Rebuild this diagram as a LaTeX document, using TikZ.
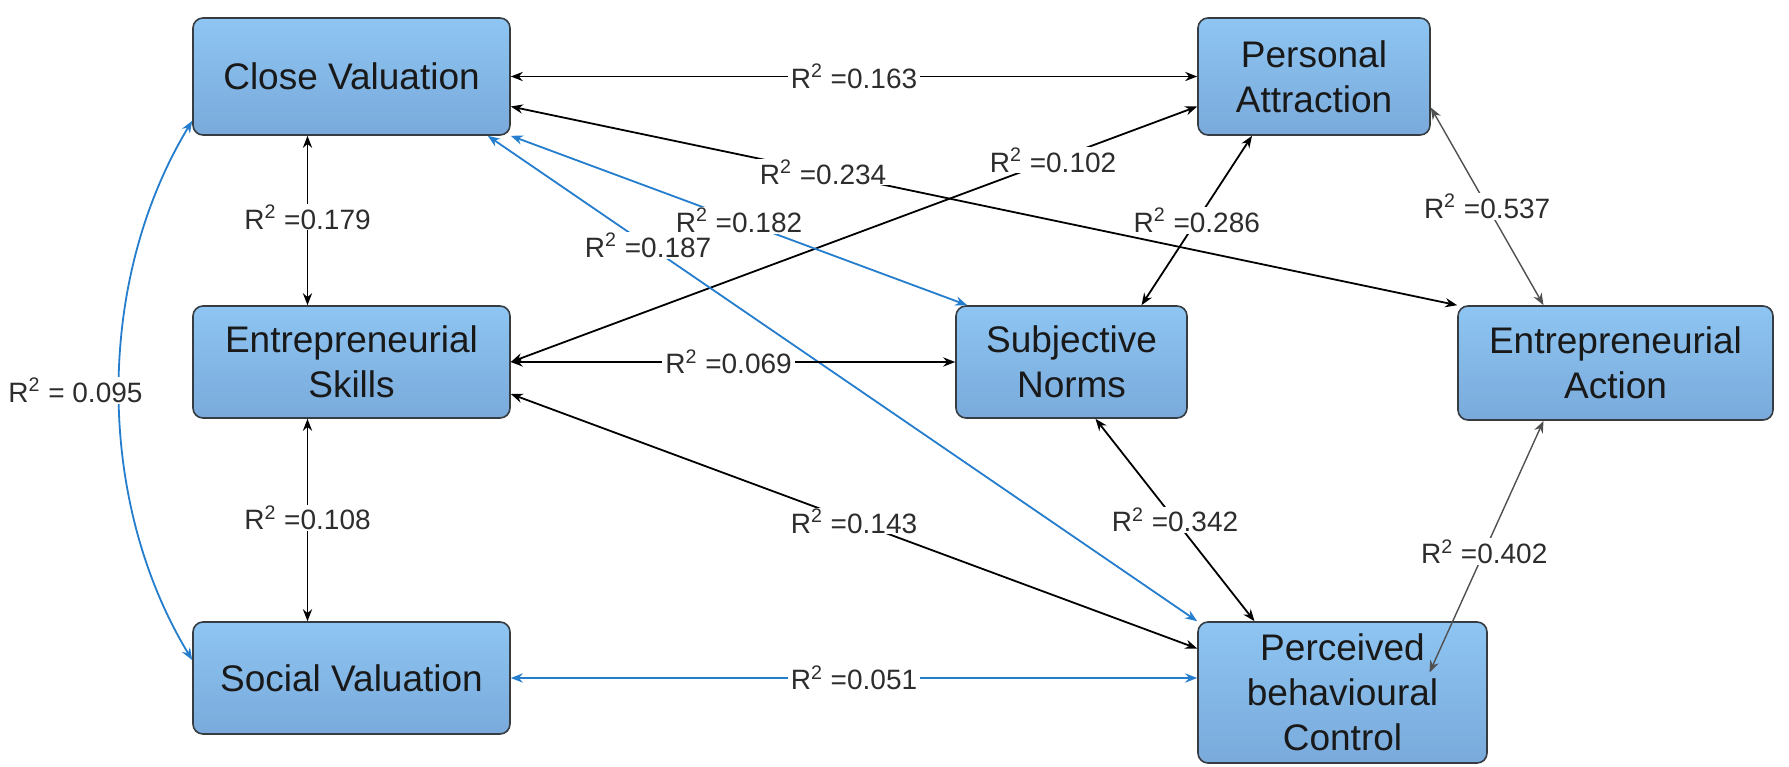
\documentclass[tikz,border=0pt]{standalone}
\usepackage{fontspec}
\setmainfont{Liberation Sans}
\usetikzlibrary{arrows.meta,calc}
\definecolor{boxtop}{RGB}{142,197,242}
\definecolor{boxbot}{RGB}{121,170,219}
\definecolor{boxedge}{RGB}{55,60,66}
\definecolor{lineblue}{RGB}{36,125,205}
\definecolor{linegray}{RGB}{80,80,80}
\definecolor{labtext}{RGB}{45,45,45}
\begin{document}
\begin{tikzpicture}[x=0.5pt,y=-0.5pt,
  box/.style={draw=boxedge, line width=0.8pt, rounded corners=5pt,
    top color=boxtop, bottom color=boxbot, align=center,
    font=\fontsize{18.5}{22.5}\selectfont, text=black!90, inner sep=0pt},
  conn/.style={line width=0.9pt,
    {Stealth[length=6pt,width=4.6pt]}-{Stealth[length=6pt,width=4.6pt]}},
  blk/.style={conn, draw=black},
  gry/.style={conn, draw=linegray, line width=0.7pt},
  blu/.style={conn, draw=lineblue},
  lab/.style={fill=white, inner xsep=1.5pt, inner ysep=0.5pt, text=labtext,
    font=\fontsize{14}{16}\selectfont}
]
\useasboundingbox[fill=white] (0,0) rectangle (1789,766);

% boxes
\node[box, minimum width=158.5pt, minimum height=58.5pt] (cv) at (351.5,76.5) {Close Valuation};
\node[box, minimum width=158.5pt, minimum height=56pt] (es) at (351.5,362) {Entrepreneurial\\Skills};
\node[box, minimum width=158.5pt, minimum height=56pt] (sv) at (351.5,678) {Social Valuation};
\node[box, minimum width=116pt, minimum height=58.5pt] (pa) at (1314,76.5) {Personal\\Attraction};
\node[box, minimum width=115.5pt, minimum height=56pt] (sn) at (1071.5,362) {Subjective\\Norms};
\node[box, minimum width=157.5pt, minimum height=57pt] (ea) at (1615.5,363) {Entrepreneurial\\Action};
\node[box, minimum width=144.5pt, minimum height=70.5pt] (pbc) at (1342.5,692.5) {Perceived\\behavioural\\Control};

% connectors
\draw[blk] (cv.east) -- node[lab]{R\textsuperscript{2} =0.163} (pa.west);
\draw[blk] ($(cv.east)+(0,30)$) -- node[lab,pos=0.33]{R\textsuperscript{2} =0.234} (ea.north west);
\draw[blk] ($(cv.south)+(-44,0)$) -- node[lab,pos=0.48]{R\textsuperscript{2} =0.179} ($(es.north)+(-44,0)$);
\draw[blk] ($(es.south)+(-44,0)$) -- node[lab,pos=0.49]{R\textsuperscript{2} =0.108} ($(sv.north)+(-44,0)$);
\draw[blu] ($(cv.south west)+(0,-15)$) .. controls +(-97,160) and +(-97,-160) .. node[lab,pos=0.5,xshift=-22pt]{R\textsuperscript{2} = 0.095} ($(sv.west)+(0,-18)$);
\draw[blk] (es.east) -- node[lab,pos=0.79]{R\textsuperscript{2} =0.102} ($(pa.west)+(0,30)$);
\draw[blu] ($(cv.south east)+(-23,0)$) -- node[lab,pos=0.226]{R\textsuperscript{2} =0.187} (pbc.north west);
\draw[blu] (cv.south east) -- node[lab,pos=0.5]{R\textsuperscript{2} =0.182} ($(sn.north west)+(12,0)$);
\draw[blk] (es.east) -- node[lab,pos=0.49]{R\textsuperscript{2} =0.069} (sn.west);
\draw[blk] ($(pa.south)+(-62,0)$) -- node[lab,pos=0.5]{R\textsuperscript{2} =0.286} ($(sn.north)+(70,0)$);
\draw[gry] ($(pa.east)+(0,31)$) -- node[lab,pos=0.5]{R\textsuperscript{2} =0.537} ($(ea.north)+(-72,0)$);
\draw[blk] ($(es.east)+(0,32)$) -- node[lab,pos=0.5]{R\textsuperscript{2} =0.143} ($(pbc.west)+(0,-44)$);
\draw[blk] ($(sn.south)+(24,0)$) -- node[lab,pos=0.5]{R\textsuperscript{2} =0.342} ($(pbc.north)+(-88,0)$);
\draw[gry] ($(ea.south)+(-72,0)$) -- node[lab,pos=0.52]{R\textsuperscript{2} =0.402} ($(pbc.center)+(87,-20)$);
\draw[blu] (sv.east) -- node[lab,pos=0.5]{R\textsuperscript{2} =0.051} ($(pbc.west)+(0,-14.5)$);
\end{tikzpicture}
\end{document}
